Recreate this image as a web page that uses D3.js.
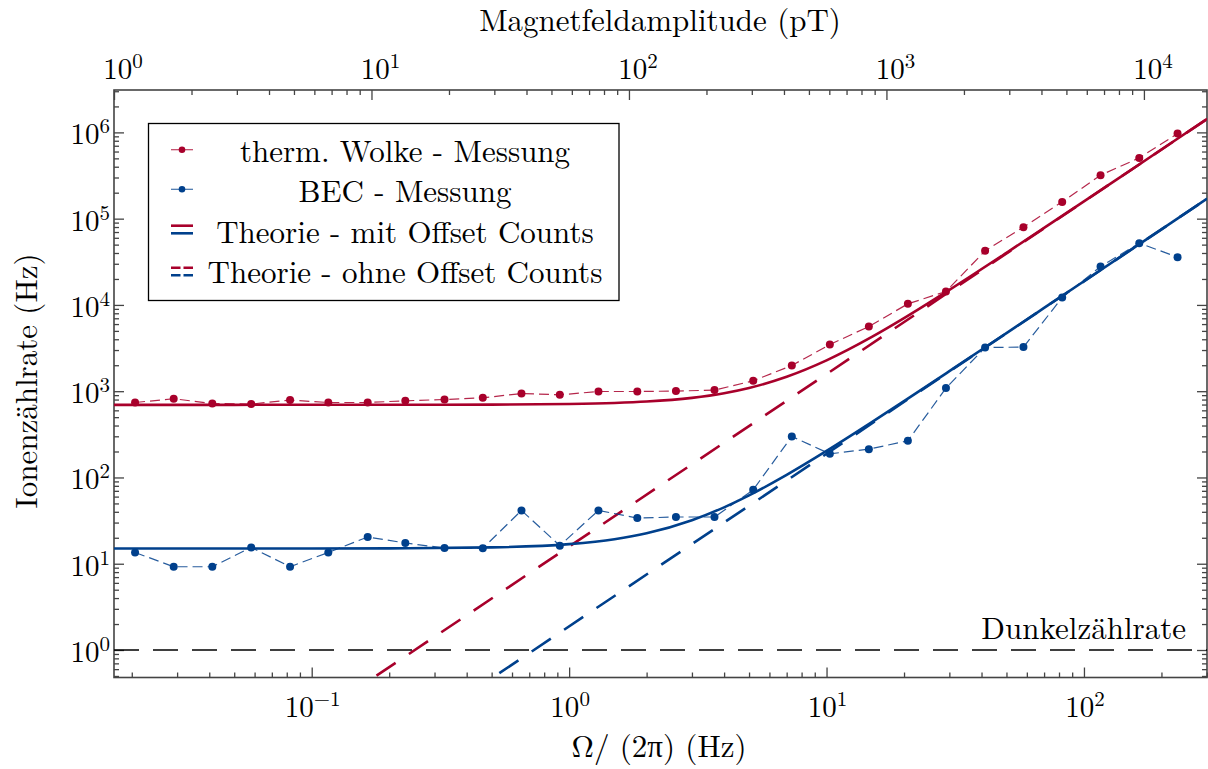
<!DOCTYPE html>
<html><head><meta charset="utf-8">
<script src="https://cdn.jsdelivr.net/npm/d3@7"></script>
<style>body{margin:0;background:#fff}</style>
</head><body>
<svg id="c" width="1208" height="769"></svg>
<script>
// ---------- data ----------
const freqHz = [0.0206,0.0291,0.0411,0.0582,0.0824,0.116,0.165,0.231,0.328,0.462,0.653,0.920,1.30,1.84,2.60,3.67,5.19,7.33,10.3,14.6,20.7,29.1,41.3,58.2,82.3,116,164,231];
const thermRate = [740,817,720,709,789,740,740,774,801,838,940,908,992,992,1003,1030,1320,1985,3476,5620,10300,14300,42400,79700,156500,319000,506000,968000];
const becRate = [13.5,9.23,9.23,15.45,9.23,13.5,20.4,17.4,15.2,15.1,41.5,16.2,41.5,33.8,34.8,34.8,72.0,299,188,213,266,1086,3209,3243,12180,27860,52010,35800];

const theoryFreq = [0.017,0.05,0.1,0.2,0.5,1,1.5,2,3,4,5,7,10,15,20,30,50,70,100,150,200,301];
const thermTheoryOffset = [695,695,695.2,695.6,699,710.8,730.6,758.2,837.2,947.8,1090,1469,2275,4250,7015,14915,40195,78115,158695,356195,632695,1432195];
const becTheoryOffset = [15,15,15.02,15.08,15.47,16.88,19.23,22.52,31.92,45.08,62,107.1,203,438,767,1707,4715,9227,18815,42315,75215,170345];

const thermNoOffsetFreq = [0.1,301];
const thermTheoryNoOffset = [0.158,1431500];
const becNoOffsetFreq = [0.3,301];
const becTheoryNoOffset = [0.169,170330];

const darkRate = 1;

const xMajor = [0.1,1,10,100];
const xTopMajor = [1,10,100,1000,10000];
const yMajor = [1,10,100,1000,1e4,1e5,1e6];

const legendLabels = ["therm. Wolke - Messung","BEC - Messung","Theorie - mit Offset Counts","Theorie - ohne Offset Counts"];

// ---------- style ----------
const RED = "#a8002b", BLUE = "#00408c", AXIS = "#444";
const FONT = "'Latin Modern Roman'";
const TXT = 31;
const L = 114, R = 1207, T = 90, B = 677.5;

const svg = d3.select("#c");
const x = d3.scaleLog().domain([0.01706,300.6]).range([L,R]);
const xTop = d3.scaleLog().domain([1,17580]).range([L,R]);
const y = d3.scaleLog().domain([0.48,3.1e6]).range([B,T]);

const isPow10 = v => { const l = Math.log10(v); return Math.abs(l - Math.round(l)) < 1e-9; };

svg.append("defs").append("clipPath").attr("id","clip")
  .append("rect").attr("x",L).attr("y",T).attr("width",R-L).attr("height",B-T);

// ---------- ticks ----------
function styleAxis(g){
  g.select(".domain").remove();
  g.selectAll(".tick line").attr("stroke",AXIS).attr("stroke-width",1.3);
  g.selectAll(".tick text").remove();
}
svg.append("g").attr("transform",`translate(0,${B})`)
  .call(d3.axisBottom(x).tickValues(x.ticks().filter(d=>!isPow10(d))).tickSize(-5).tickSizeOuter(0).tickFormat("")).call(styleAxis);
svg.append("g").attr("transform",`translate(0,${B})`)
  .call(d3.axisBottom(x).tickValues(xMajor).tickSize(-10).tickSizeOuter(0).tickFormat("")).call(styleAxis);
svg.append("g").attr("transform",`translate(0,${T})`)
  .call(d3.axisTop(xTop).tickValues(xTop.ticks().filter(d=>!isPow10(d))).tickSize(-5).tickSizeOuter(0).tickFormat("")).call(styleAxis);
svg.append("g").attr("transform",`translate(0,${T})`)
  .call(d3.axisTop(xTop).tickValues(xTopMajor).tickSize(-10).tickSizeOuter(0).tickFormat("")).call(styleAxis);
[[L,d3.axisLeft],[R,d3.axisRight]].forEach(([px,ax])=>{
  svg.append("g").attr("transform",`translate(${px},0)`)
    .call(ax(y).tickValues(y.ticks().filter(d=>!isPow10(d))).tickSize(-5).tickSizeOuter(0).tickFormat("")).call(styleAxis);
  svg.append("g").attr("transform",`translate(${px},0)`)
    .call(ax(y).tickValues(yMajor).tickSize(-10).tickSizeOuter(0).tickFormat("")).call(styleAxis);
});

svg.append("rect").attr("x",L).attr("y",T).attr("width",R-L).attr("height",B-T)
  .attr("fill","none").attr("stroke",AXIS).attr("stroke-width",1.6);

function txt(parent, size){
  return (parent||svg).append("text").style("font-family",FONT).style("font-size",size+"px").attr("fill","#000");
}

function powLabel(px,py,v,anchor){
  const e = Math.round(Math.log10(v));
  const t = txt(svg,29).attr("x",px).attr("y",py).attr("text-anchor",anchor);
  t.append("tspan").text("10");
  t.append("tspan").attr("dy",-11).style("font-size","21px").text(e<0 ? "\u2212"+(-e) : String(e));
}
xMajor.forEach(v=>powLabel(x(v)+1,717,v,"middle"));
xTopMajor.forEach(v=>powLabel(xTop(v)+9,79,v,"middle"));
yMajor.forEach(v=>powLabel(110,y(v)+12,v,"end"));

txt(svg,TXT).attr("x",660).attr("y",31).attr("text-anchor","middle").text("Magnetfeldamplitude (pT)");
txt(svg,TXT).attr("x",659).attr("y",757).attr("text-anchor","middle").text("\u03A9/ (2\u03C0) (Hz)");
txt(svg,TXT).attr("transform","translate(37,381) rotate(-90)").attr("text-anchor","middle").text("Ionenz\u00E4hlrate (Hz)");

// ---------- data marks ----------
const plot = svg.append("g").attr("clip-path","url(#clip)");

plot.append("line").attr("x1",L).attr("x2",R).attr("y1",y(darkRate)).attr("y2",y(darkRate))
  .attr("stroke","#000").attr("stroke-width",1.5).attr("stroke-dasharray","25,14");

const line = d3.line().x(d=>x(d[0])).y(d=>y(d[1]));
const lineSmooth = d3.line().x(d=>x(d[0])).y(d=>y(d[1])).curve(d3.curveMonotoneX);

plot.append("path").datum(d3.zip(thermNoOffsetFreq,thermTheoryNoOffset)).attr("d",line)
  .attr("fill","none").attr("stroke",RED).attr("stroke-width",2.6).attr("stroke-dasharray","23,16");
plot.append("path").datum(d3.zip(becNoOffsetFreq,becTheoryNoOffset)).attr("d",line)
  .attr("fill","none").attr("stroke",BLUE).attr("stroke-width",2.6).attr("stroke-dasharray","23,16");

plot.append("path").datum(d3.zip(theoryFreq,thermTheoryOffset)).attr("d",lineSmooth)
  .attr("fill","none").attr("stroke",RED).attr("stroke-width",2.6);
plot.append("path").datum(d3.zip(theoryFreq,becTheoryOffset)).attr("d",lineSmooth)
  .attr("fill","none").attr("stroke",BLUE).attr("stroke-width",2.6);

[[thermRate,RED],[becRate,BLUE]].forEach(([vals,col])=>{
  const pts = d3.zip(freqHz,vals);
  plot.append("path").datum(pts).attr("d",line).attr("fill","none")
    .attr("stroke",col).attr("stroke-width",1.2).attr("stroke-opacity",0.85).attr("stroke-dasharray","10,5");
  plot.append("g").selectAll("circle").data(pts).join("circle")
    .attr("cx",d=>x(d[0])).attr("cy",d=>y(d[1])).attr("r",4).attr("fill",col);
});

txt(svg,TXT).attr("x",1186).attr("y",639).attr("text-anchor","end").text("Dunkelz\u00E4hlrate");

// ---------- legend ----------
const lg = svg.append("g");
lg.append("rect").attr("x",148.5).attr("y",123.5).attr("width",470.5).attr("height",177)
  .attr("fill","#fff").attr("stroke","#000").attr("stroke-width",1.3);
const hx0 = 171, hx1 = 193, hxm = 182;
[[149.7,RED],[189.3,BLUE]].forEach(([yy,col])=>{
  lg.append("line").attr("x1",hx0).attr("x2",hx1).attr("y1",yy).attr("y2",yy).attr("stroke",col).attr("stroke-width",1.2).attr("stroke-opacity",0.75);
  lg.append("circle").attr("cx",hxm).attr("cy",yy).attr("r",3.3).attr("fill",col);
});
[[225.7,RED],[233.3,BLUE]].forEach(([yy,col])=>{
  lg.append("line").attr("x1",hx0).attr("x2",hx1).attr("y1",yy).attr("y2",yy).attr("stroke",col).attr("stroke-width",2.6);
});
[[267.7,RED],[275.3,BLUE]].forEach(([yy,col])=>{
  lg.append("line").attr("x1",hx0).attr("x2",hx1).attr("y1",yy).attr("y2",yy).attr("stroke",col).attr("stroke-width",2.6).attr("stroke-dasharray","9.5,3");
});
const rowBase = [161.5,201.5,243,282.5];
legendLabels.forEach((t,i)=>{
  txt(lg,TXT).attr("x",405).attr("y",rowBase[i]).attr("text-anchor","middle").text(t);
});
</script>
</body></html>
